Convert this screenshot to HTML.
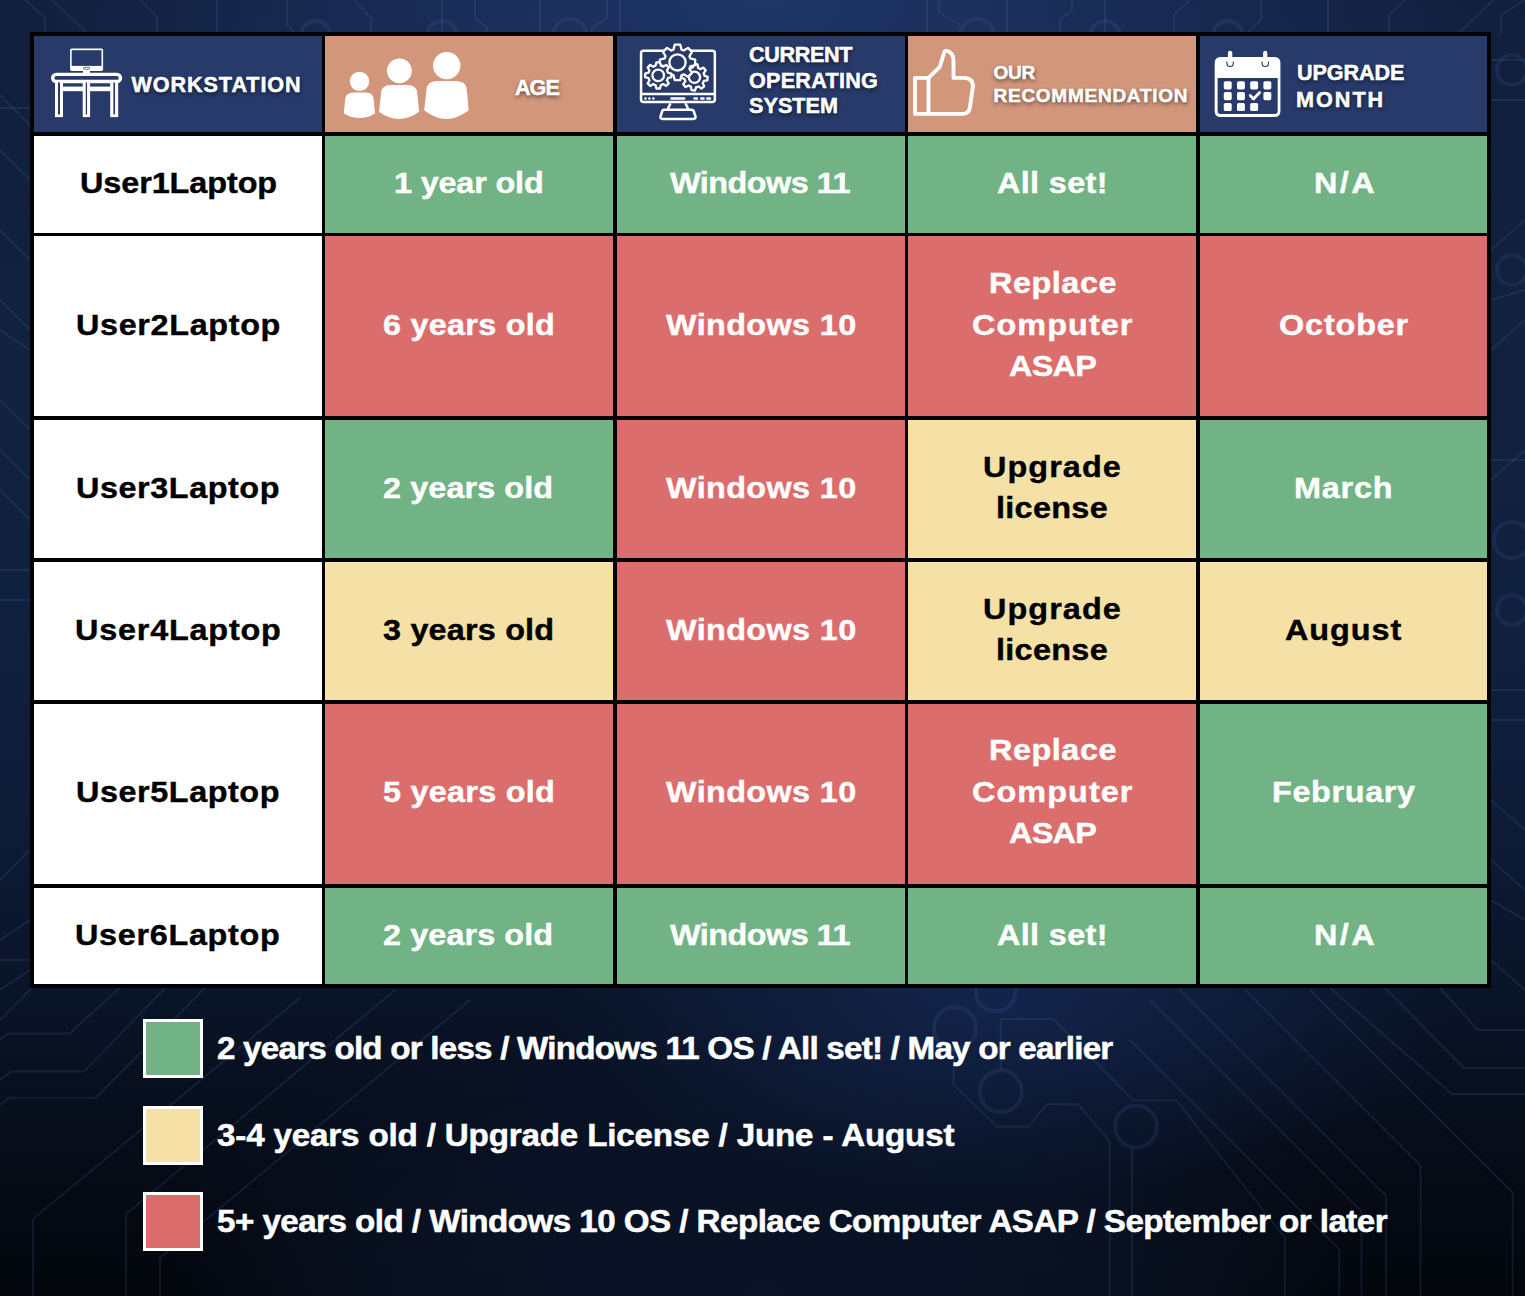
<!DOCTYPE html>
<html><head><meta charset="utf-8"><title>Workstation upgrade plan</title><style>
html,body{margin:0;padding:0;}
body{position:relative;width:1525px;height:1296px;overflow:hidden;font-family:"Liberation Sans",sans-serif;font-weight:bold;
background:
radial-gradient(900px 450px at 762px 0px, rgba(31,54,104,1) 0%, rgba(31,54,104,0.6) 40%, rgba(31,54,104,0.35) 65%, rgba(31,54,104,0.1) 85%, rgba(31,54,104,0) 100%),
radial-gradient(450px 200px at 1000px 1000px, rgba(24,44,92,0.7) 0%, rgba(24,44,92,0.35) 50%, rgba(24,44,92,0) 100%),
radial-gradient(600px 320px at 762px 1296px, rgba(10,20,40,0.95) 0%, rgba(10,20,40,0.7) 60%, rgba(10,20,40,0) 100%),
linear-gradient(180deg,#0f1b36 0%,#11213f 23%,#10203f 46%,#0e1c38 62%,#0a1428 77%,#060c18 89%,#03060c 100%);}
.t{position:absolute;white-space:nowrap;line-height:1;transform-origin:0 0;}
</style></head><body>
<svg style="position:absolute;left:0;top:0" width="1525" height="1296" viewBox="0 0 1525 1296"><g fill="none" stroke="rgba(90,135,205,0.14)" stroke-width="2"><path d="M0,1040 L8,1033.5 L69.5,1033.5 L123,985"/><path d="M0,1080 L10.5,1071.6 L84,1071.6 L168,985"/><path d="M0,1105 L9,1097.8 L95.7,1097.8 L208,985"/><path d="M33,1296 L33,1219 L300,998"/><path d="M126,1296 L126,1214 L395,990"/><path d="M160,1296 L160,1258 L470,1000"/><path d="M0,1020 L35,985"/><path d="M1000.8,1070 L1000.8,1019 L1053.4,1019 L1133.5,1100.4 L1176.6,1100.4 L1285,1238 L1285,1296"/><path d="M953.6,1049.3 L953.6,1084.7 L997,1126.6 L1028.5,1126.6 L1046.7,1104.3 L1078.2,1104.3 L1109.7,1141 L1109.7,1296"/><path d="M1132,1147.6 L1132,1296"/><path d="M1150,1000 L1361.5,1211.5 L1361.5,1296"/><path d="M1180,990 L1386,1196 L1386,1296"/><path d="M1245,990 L1420.5,1165.5 L1420.5,1296"/><path d="M1310,990 L1512.7,1192.7 L1512.7,1296"/><path d="M1130,1040 L1339.3,1249.3 L1339.3,1296"/><path d="M1385,988 L1464,1068 L1525,1068"/><path d="M1440,988 L1478,1030 L1525,1030"/><path d="M1330,988 L1452,1094 L1525,1094"/><path d="M25,0 L45,18 L45,34"/><path d="M52,0 L82,28 L88,34"/><path d="M140,0 L157,17 L157,34"/><path d="M217,0 L217,34"/><path d="M287,0 L287,25 L296,34"/><path d="M354,0 L371,18 L371,34"/><path d="M442,0 L442,34"/><path d="M475,0 L475,18 L487,28 L487,34"/><path d="M540,0 L540,34"/><path d="M607,0 L607,18 L592,28 L592,34"/><path d="M620,0 L620,34"/><path d="M927,0 L927,34"/><path d="M939,0 L939,12 L960,25"/><path d="M1007,0 L1007,34"/><path d="M1072,0 L1072,10 L1060,20 L1060,34"/><path d="M1105,0 L1105,34"/><path d="M1190,0 L1174,15 L1174,34"/><path d="M1261,0 L1261,20 L1248,32"/><path d="M1328,0 L1328,34"/><path d="M1405,0 L1389,15 L1389,34"/><path d="M1493,0 L1458,34"/><path d="M1525,0 L1501,15 L1501,34"/><path d="M0,95 L30,125"/><path d="M0,108 L30,108"/><path d="M0,150 L30,180"/><path d="M0,230 L30,260"/><path d="M0,300 L30,330"/><path d="M0,330 L30,350"/><path d="M0,400 L30,430"/><path d="M0,450 L30,480"/><path d="M0,490 L30,520"/><path d="M0,570 L30,570"/><path d="M0,600 L30,600"/><path d="M0,880 L30,850"/><path d="M0,940 L30,920"/><path d="M0,960 L30,960"/><path d="M0,990 L30,970"/><path d="M1491,60 L1525,60"/><path d="M1491,100 L1525,100"/><path d="M1491,250 L1525,220"/><path d="M1491,300 L1525,290"/><path d="M1491,350 L1525,320"/><path d="M1491,460 L1525,460"/><path d="M1491,480 L1525,450"/><path d="M1491,690 L1525,690"/><path d="M1491,720 L1525,720"/><path d="M1491,800 L1525,830"/><path d="M1491,860 L1525,890"/><path d="M1491,900 L1525,920"/><path d="M1491,960 L1525,990"/></g><g fill="none" stroke="rgba(90,135,205,0.12)" stroke-width="4"><circle cx="995.6" cy="991.6" r="19.7"/><circle cx="955" cy="1028.3" r="21"/><circle cx="1000.8" cy="1091.2" r="21"/><circle cx="1136" cy="1126.6" r="21"/><circle cx="316" cy="36" r="15"/><circle cx="442" cy="36" r="15"/><circle cx="570" cy="36" r="17"/><circle cx="977" cy="36" r="17"/><circle cx="1105" cy="36" r="15"/><circle cx="1228" cy="36" r="15"/><circle cx="1512" cy="70" r="15"/><circle cx="1512" cy="270" r="15"/><circle cx="1512" cy="540" r="18"/><circle cx="1512" cy="610" r="15"/></g></svg>
<div style="position:absolute;left:30px;top:32px;width:1461px;height:956px;background:#000;"></div><div style="position:absolute;left:34px;top:36px;width:288px;height:96px;background:#273a6a;"></div><div style="position:absolute;left:325px;top:36px;width:288px;height:96px;background:#d2967b;"></div><div style="position:absolute;left:617px;top:36px;width:288px;height:96px;background:#273a6a;"></div><div style="position:absolute;left:908px;top:36px;width:288px;height:96px;background:#d2967b;"></div><div style="position:absolute;left:1200px;top:36px;width:287px;height:96px;background:#273a6a;"></div><div style="position:absolute;left:34px;top:136px;width:288px;height:97px;background:#ffffff;"></div><div class="t" style="left:79.50px;top:167.60px;font-size:30px;letter-spacing:-0.082px;color:#000;transform:scaleX(1.08);-webkit-text-stroke:0.4px #000;">User1Laptop</div><div style="position:absolute;left:325px;top:136px;width:288px;height:97px;background:#71b385;"></div><div class="t" style="left:393.50px;top:167.60px;font-size:30px;letter-spacing:-0.165px;color:#fff;transform:scaleX(1.08);-webkit-text-stroke:0.4px #fff;">1 year old</div><div style="position:absolute;left:617px;top:136px;width:288px;height:97px;background:#71b385;"></div><div class="t" style="left:670.00px;top:167.60px;font-size:30px;letter-spacing:-0.479px;color:#fff;transform:scaleX(1.08);-webkit-text-stroke:0.4px #fff;">Windows 11</div><div style="position:absolute;left:908px;top:136px;width:288px;height:97px;background:#71b385;"></div><div class="t" style="left:997.00px;top:167.60px;font-size:30px;letter-spacing:0.325px;color:#fff;transform:scaleX(1.08);-webkit-text-stroke:0.4px #fff;">All set!</div><div style="position:absolute;left:1200px;top:136px;width:287px;height:97px;background:#71b385;"></div><div class="t" style="left:1314.00px;top:167.60px;font-size:30px;letter-spacing:2.282px;color:#fff;transform:scaleX(1.08);-webkit-text-stroke:0.4px #fff;">N/A</div><div style="position:absolute;left:34px;top:236px;width:288px;height:180px;background:#ffffff;"></div><div class="t" style="left:76.00px;top:309.71px;font-size:30px;letter-spacing:0.588px;color:#000;transform:scaleX(1.08);-webkit-text-stroke:0.4px #000;">User2Laptop</div><div style="position:absolute;left:325px;top:236px;width:288px;height:180px;background:#db6e6d;"></div><div class="t" style="left:383.00px;top:309.71px;font-size:30px;letter-spacing:0.238px;color:#fff;transform:scaleX(1.08);-webkit-text-stroke:0.4px #fff;">6 years old</div><div style="position:absolute;left:617px;top:236px;width:288px;height:180px;background:#db6e6d;"></div><div class="t" style="left:666.00px;top:309.71px;font-size:30px;letter-spacing:0.334px;color:#fff;transform:scaleX(1.08);-webkit-text-stroke:0.4px #fff;">Windows 10</div><div style="position:absolute;left:908px;top:236px;width:288px;height:180px;background:#db6e6d;"></div><div class="t" style="left:988.50px;top:268.41px;font-size:30px;letter-spacing:0.501px;color:#fff;transform:scaleX(1.08);-webkit-text-stroke:0.4px #fff;">Replace</div><div class="t" style="left:971.50px;top:309.71px;font-size:30px;letter-spacing:0.984px;color:#fff;transform:scaleX(1.08);-webkit-text-stroke:0.4px #fff;">Computer</div><div class="t" style="left:1008.50px;top:351.01px;font-size:30px;letter-spacing:-0.668px;color:#fff;transform:scaleX(1.08);-webkit-text-stroke:0.4px #fff;">ASAP</div><div style="position:absolute;left:1200px;top:236px;width:287px;height:180px;background:#db6e6d;"></div><div class="t" style="left:1279.00px;top:309.71px;font-size:30px;letter-spacing:0.770px;color:#fff;transform:scaleX(1.08);-webkit-text-stroke:0.4px #fff;">October</div><div style="position:absolute;left:34px;top:420px;width:288px;height:138px;background:#ffffff;"></div><div class="t" style="left:76.00px;top:472.71px;font-size:30px;letter-spacing:0.505px;color:#000;transform:scaleX(1.08);-webkit-text-stroke:0.4px #000;">User3Laptop</div><div style="position:absolute;left:325px;top:420px;width:288px;height:138px;background:#71b385;"></div><div class="t" style="left:383.00px;top:472.71px;font-size:30px;letter-spacing:0.073px;color:#fff;transform:scaleX(1.08);-webkit-text-stroke:0.4px #fff;">2 years old</div><div style="position:absolute;left:617px;top:420px;width:288px;height:138px;background:#db6e6d;"></div><div class="t" style="left:666.00px;top:472.71px;font-size:30px;letter-spacing:0.334px;color:#fff;transform:scaleX(1.08);-webkit-text-stroke:0.4px #fff;">Windows 10</div><div style="position:absolute;left:908px;top:420px;width:288px;height:138px;background:#f5e1a6;"></div><div class="t" style="left:983.00px;top:452.06px;font-size:30px;letter-spacing:0.981px;color:#000;transform:scaleX(1.08);-webkit-text-stroke:0.4px #000;">Upgrade</div><div class="t" style="left:996.00px;top:493.36px;font-size:30px;letter-spacing:0.278px;color:#000;transform:scaleX(1.08);-webkit-text-stroke:0.4px #000;">license</div><div style="position:absolute;left:1200px;top:420px;width:287px;height:138px;background:#71b385;"></div><div class="t" style="left:1294.00px;top:472.71px;font-size:30px;letter-spacing:0.747px;color:#fff;transform:scaleX(1.08);-webkit-text-stroke:0.4px #fff;">March</div><div style="position:absolute;left:34px;top:562px;width:288px;height:138px;background:#ffffff;"></div><div class="t" style="left:74.50px;top:614.61px;font-size:30px;letter-spacing:0.726px;color:#000;transform:scaleX(1.08);-webkit-text-stroke:0.4px #000;">User4Laptop</div><div style="position:absolute;left:325px;top:562px;width:288px;height:138px;background:#f5e1a6;"></div><div class="t" style="left:383.00px;top:614.61px;font-size:30px;letter-spacing:0.165px;color:#000;transform:scaleX(1.08);-webkit-text-stroke:0.4px #000;">3 years old</div><div style="position:absolute;left:617px;top:562px;width:288px;height:138px;background:#db6e6d;"></div><div class="t" style="left:666.00px;top:614.61px;font-size:30px;letter-spacing:0.334px;color:#fff;transform:scaleX(1.08);-webkit-text-stroke:0.4px #fff;">Windows 10</div><div style="position:absolute;left:908px;top:562px;width:288px;height:138px;background:#f5e1a6;"></div><div class="t" style="left:983.00px;top:593.96px;font-size:30px;letter-spacing:0.981px;color:#000;transform:scaleX(1.08);-webkit-text-stroke:0.4px #000;">Upgrade</div><div class="t" style="left:996.00px;top:635.25px;font-size:30px;letter-spacing:0.278px;color:#000;transform:scaleX(1.08);-webkit-text-stroke:0.4px #000;">license</div><div style="position:absolute;left:1200px;top:562px;width:287px;height:138px;background:#f5e1a6;"></div><div class="t" style="left:1284.50px;top:614.61px;font-size:30px;letter-spacing:0.865px;color:#000;transform:scaleX(1.08);-webkit-text-stroke:0.4px #000;">August</div><div style="position:absolute;left:34px;top:704px;width:288px;height:180px;background:#ffffff;"></div><div class="t" style="left:76.00px;top:776.71px;font-size:30px;letter-spacing:0.505px;color:#000;transform:scaleX(1.08);-webkit-text-stroke:0.4px #000;">User5Laptop</div><div style="position:absolute;left:325px;top:704px;width:288px;height:180px;background:#db6e6d;"></div><div class="t" style="left:383.00px;top:776.71px;font-size:30px;letter-spacing:0.238px;color:#fff;transform:scaleX(1.08);-webkit-text-stroke:0.4px #fff;">5 years old</div><div style="position:absolute;left:617px;top:704px;width:288px;height:180px;background:#db6e6d;"></div><div class="t" style="left:666.00px;top:776.71px;font-size:30px;letter-spacing:0.334px;color:#fff;transform:scaleX(1.08);-webkit-text-stroke:0.4px #fff;">Windows 10</div><div style="position:absolute;left:908px;top:704px;width:288px;height:180px;background:#db6e6d;"></div><div class="t" style="left:988.50px;top:735.41px;font-size:30px;letter-spacing:0.501px;color:#fff;transform:scaleX(1.08);-webkit-text-stroke:0.4px #fff;">Replace</div><div class="t" style="left:971.50px;top:776.71px;font-size:30px;letter-spacing:0.984px;color:#fff;transform:scaleX(1.08);-webkit-text-stroke:0.4px #fff;">Computer</div><div class="t" style="left:1008.50px;top:818.00px;font-size:30px;letter-spacing:-0.668px;color:#fff;transform:scaleX(1.08);-webkit-text-stroke:0.4px #fff;">ASAP</div><div style="position:absolute;left:1200px;top:704px;width:287px;height:180px;background:#71b385;"></div><div class="t" style="left:1272.00px;top:776.71px;font-size:30px;letter-spacing:0.586px;color:#fff;transform:scaleX(1.08);-webkit-text-stroke:0.4px #fff;">February</div><div style="position:absolute;left:34px;top:888px;width:288px;height:96px;background:#ffffff;"></div><div class="t" style="left:75.00px;top:919.61px;font-size:30px;letter-spacing:0.626px;color:#000;transform:scaleX(1.08);-webkit-text-stroke:0.4px #000;">User6Laptop</div><div style="position:absolute;left:325px;top:888px;width:288px;height:96px;background:#71b385;"></div><div class="t" style="left:383.00px;top:919.61px;font-size:30px;letter-spacing:0.073px;color:#fff;transform:scaleX(1.08);-webkit-text-stroke:0.4px #fff;">2 years old</div><div style="position:absolute;left:617px;top:888px;width:288px;height:96px;background:#71b385;"></div><div class="t" style="left:670.00px;top:919.61px;font-size:30px;letter-spacing:-0.479px;color:#fff;transform:scaleX(1.08);-webkit-text-stroke:0.4px #fff;">Windows 11</div><div style="position:absolute;left:908px;top:888px;width:288px;height:96px;background:#71b385;"></div><div class="t" style="left:997.00px;top:919.61px;font-size:30px;letter-spacing:0.325px;color:#fff;transform:scaleX(1.08);-webkit-text-stroke:0.4px #fff;">All set!</div><div style="position:absolute;left:1200px;top:888px;width:287px;height:96px;background:#71b385;"></div><div class="t" style="left:1314.00px;top:919.61px;font-size:30px;letter-spacing:2.282px;color:#fff;transform:scaleX(1.08);-webkit-text-stroke:0.4px #fff;">N/A</div><div class="t" style="left:131.50px;top:73.62px;font-size:21.6px;letter-spacing:0.920px;color:#fff;-webkit-text-stroke:0.5px #fff;text-shadow:0.5px 1.5px 4.5px rgba(0,0,0,0.6);">WORKSTATION</div><div class="t" style="left:515.00px;top:76.62px;font-size:21.6px;letter-spacing:-1.000px;color:#fff;-webkit-text-stroke:0.5px #fff;text-shadow:0.5px 1.5px 4.5px rgba(0,0,0,0.6);">AGE</div><div class="t" style="left:749.00px;top:43.62px;font-size:21.6px;letter-spacing:-0.366px;color:#fff;-webkit-text-stroke:0.5px #fff;text-shadow:0.5px 1.5px 4.5px rgba(0,0,0,0.6);">CURRENT</div><div class="t" style="left:749.00px;top:69.62px;font-size:21.6px;letter-spacing:0.250px;color:#fff;-webkit-text-stroke:0.5px #fff;text-shadow:0.5px 1.5px 4.5px rgba(0,0,0,0.6);">OPERATING</div><div class="t" style="left:749.00px;top:95.32px;font-size:21.6px;letter-spacing:0.040px;color:#fff;-webkit-text-stroke:0.5px #fff;text-shadow:0.5px 1.5px 4.5px rgba(0,0,0,0.6);">SYSTEM</div><div class="t" style="left:993.50px;top:62.82px;font-size:19px;letter-spacing:-0.300px;color:#fff;-webkit-text-stroke:0.5px #fff;text-shadow:0.5px 1.5px 4.5px rgba(0,0,0,0.6);">OUR</div><div class="t" style="left:993.50px;top:85.62px;font-size:19px;letter-spacing:0.742px;color:#fff;-webkit-text-stroke:0.5px #fff;text-shadow:0.5px 1.5px 4.5px rgba(0,0,0,0.6);">RECOMMENDATION</div><div class="t" style="left:1297.00px;top:62.42px;font-size:21.6px;letter-spacing:-0.102px;color:#fff;-webkit-text-stroke:0.5px #fff;text-shadow:0.5px 1.5px 4.5px rgba(0,0,0,0.6);">UPGRADE</div><div class="t" style="left:1296.00px;top:88.82px;font-size:21.6px;letter-spacing:2.000px;color:#fff;-webkit-text-stroke:0.5px #fff;text-shadow:0.5px 1.5px 4.5px rgba(0,0,0,0.6);">MONTH</div><div style="position:absolute;left:143px;top:1019px;width:60px;height:59px;background:#71b385;box-sizing:border-box;border:3.5px solid #fff;"></div><div class="t" style="left:217.00px;top:1032.86px;font-size:31px;letter-spacing:-0.723px;color:#fff;transform:scaleX(1.07);-webkit-text-stroke:0.5px #fff;">2 years old or less / Windows 11 OS / All set! / May or earlier</div><div style="position:absolute;left:143px;top:1106px;width:60px;height:59px;background:#f5e1a6;box-sizing:border-box;border:3.5px solid #fff;"></div><div class="t" style="left:217.00px;top:1119.76px;font-size:31px;letter-spacing:-0.158px;color:#fff;transform:scaleX(1.07);-webkit-text-stroke:0.5px #fff;">3-4 years old / Upgrade License / June - August</div><div style="position:absolute;left:143px;top:1192px;width:60px;height:59px;background:#db6e6d;box-sizing:border-box;border:3.5px solid #fff;"></div><div class="t" style="left:217.00px;top:1205.66px;font-size:31px;letter-spacing:-0.509px;color:#fff;transform:scaleX(1.07);-webkit-text-stroke:0.5px #fff;">5+ years old / Windows 10 OS / Replace Computer ASAP / September or later</div>
<svg style="position:absolute;left:0;top:0" width="1525" height="140" viewBox="0 0 1525 140"><g fill="#fff"><rect x="70.1" y="48.6" width="33" height="22.3" rx="1.6"/><rect x="71.7" y="50.2" width="29.8" height="15.7" fill="#273a6a"/><rect x="83.4" y="67.3" width="6.2" height="1.9" rx="0.9" fill="none" stroke="#273a6a" stroke-width="0.7"/><rect x="83" y="70" width="7.1" height="3.5"/><rect x="52.7" y="74.4" width="67.8" height="7.1" rx="3.55" fill="none" stroke="#fff" stroke-width="3.4"/><rect x="55" y="82.5" width="8" height="34.6"/><rect x="58.00" y="82.5" width="2.0" height="31.9" fill="#273a6a"/><rect x="82.7" y="82.5" width="7.4" height="34.6"/><rect x="85.75" y="82.5" width="1.3" height="31.9" fill="#273a6a"/><rect x="110.2" y="82.5" width="8" height="34.6"/><rect x="113.40" y="82.5" width="1.6" height="31.9" fill="#273a6a"/><rect x="62" y="86.6" width="21.5" height="4.6"/><rect x="89.5" y="86.6" width="21.5" height="4.6"/></g><g fill="#fff"><circle cx="359.5" cy="81.35" r="9.7"/><circle cx="399.4" cy="70.8" r="12.4"/><circle cx="446.7" cy="65.6" r="13.7"/><path d="M354.4,92.4 L365.4,92.4 Q373.6,92.4 373.6,99.3 L375.0,113.5 Q359.4,122.69999999999999 343.8,113.5 L345.2,99.3 Q345.2,92.4 354.4,92.4Z"/><path d="M391.1,85.0 L406.7,85.0 Q417.3,85.0 417.3,93.7 L419.1,111.7 Q399.05,126.3 379.0,111.7 L381.0,93.7 Q381.0,85.0 391.1,85.0Z"/><path d="M437.0,80.9 L455.4,80.9 Q466.9,80.9 466.9,91.0 L468.7,110.3 Q446.45,127.7 424.2,110.3 L426.4,91.0 Q426.4,80.9 437.0,80.9Z"/></g><g fill="none" stroke="#fff" stroke-width="2.5" stroke-linejoin="round"><rect x="641.05" y="50.75" width="73.8" height="51.3" rx="2.5"/><line x1="641" y1="94.1" x2="715" y2="94.1"/><path d="M670.5,103.3 L667.5,109.8 M685.5,103.3 L688.5,109.8"/><path d="M664,109.8 L691,109.8 Q693.5,109.8 694,112 L695.5,116.5 Q696,118.9 693.5,118.9 L662.5,118.9 Q660,118.9 660.5,116.5 L662,112 Q662.5,109.8 664,109.8Z"/></g><g fill="#fff"><circle cx="645.5" cy="98.5" r="1.3"/><circle cx="649.4" cy="98.5" r="1.3"/><circle cx="653.4" cy="98.5" r="1.3"/><rect x="670.2" y="97.2" width="15.2" height="2.6" rx="1.3"/><rect x="693.3" y="97.2" width="4.8" height="2.6" rx="1.3"/><rect x="700.0" y="97.2" width="4.8" height="2.6" rx="1.3"/><rect x="706.0" y="97.2" width="5.2" height="2.6" rx="1.3"/></g><g fill="#273a6a" stroke="#fff" stroke-width="2.3" stroke-linejoin="round"><path d="M692.81,67.44 L694.02,64.11 L697.59,64.47 L698.12,67.98 L698.68,68.22 L699.23,68.49 L699.76,68.80 L700.27,69.13 L703.49,67.63 L705.76,70.41 L703.65,73.26 L703.88,73.83 L704.07,74.41 L704.23,75.01 L704.36,75.61 L707.69,76.82 L707.33,80.39 L703.82,80.92 L703.58,81.48 L703.31,82.03 L703.00,82.56 L702.67,83.07 L704.17,86.29 L701.39,88.56 L698.54,86.45 L697.97,86.68 L697.39,86.87 L696.79,87.03 L696.19,87.16 L694.98,90.49 L691.41,90.13 L690.88,86.62 L690.32,86.38 L689.77,86.11 L689.24,85.80 L688.73,85.47 L685.51,86.97 L683.24,84.19 L685.35,81.34 L685.12,80.77 L684.93,80.19 L684.77,79.59 L684.64,78.99 L681.31,77.78 L681.67,74.21 L685.18,73.68 L685.42,73.12 L685.69,72.57 L686.00,72.04 L686.33,71.53 L684.83,68.31 L687.61,66.04 L690.46,68.15 L691.03,67.92 L691.61,67.73 L692.21,67.57Z"/><circle cx="694.5" cy="77.3" r="5.6"/><path d="M673.46,49.62 L674.71,44.72 L680.29,44.72 L681.54,49.62 L682.09,49.81 L682.63,50.02 L683.16,50.25 L683.68,50.51 L688.03,47.93 L691.97,51.87 L689.39,56.22 L689.65,56.74 L689.88,57.27 L690.09,57.81 L690.28,58.36 L695.18,59.61 L695.18,65.19 L690.28,66.44 L690.09,66.99 L689.88,67.53 L689.65,68.06 L689.39,68.58 L691.97,72.93 L688.03,76.87 L683.68,74.29 L683.16,74.55 L682.63,74.78 L682.09,74.99 L681.54,75.18 L680.29,80.08 L674.71,80.08 L673.46,75.18 L672.91,74.99 L672.37,74.78 L671.84,74.55 L671.32,74.29 L666.97,76.87 L663.03,72.93 L665.61,68.58 L665.35,68.06 L665.12,67.53 L664.91,66.99 L664.72,66.44 L659.82,65.19 L659.82,59.61 L664.72,58.36 L664.91,57.81 L665.12,57.27 L665.35,56.74 L665.61,56.22 L663.03,51.87 L666.97,47.93 L671.32,50.51 L671.84,50.25 L672.37,50.02 L672.91,49.81Z"/><circle cx="677.5" cy="62.4" r="8.1"/><path d="M655.53,65.76 L656.41,62.32 L659.99,62.32 L660.87,65.76 L661.45,65.94 L662.03,66.16 L662.59,66.41 L663.13,66.70 L666.18,64.88 L668.72,67.42 L666.90,70.47 L667.19,71.01 L667.44,71.57 L667.66,72.15 L667.84,72.73 L671.28,73.61 L671.28,77.19 L667.84,78.07 L667.66,78.65 L667.44,79.23 L667.19,79.79 L666.90,80.33 L668.72,83.38 L666.18,85.92 L663.13,84.10 L662.59,84.39 L662.03,84.64 L661.45,84.86 L660.87,85.04 L659.99,88.48 L656.41,88.48 L655.53,85.04 L654.95,84.86 L654.37,84.64 L653.81,84.39 L653.27,84.10 L650.22,85.92 L647.68,83.38 L649.50,80.33 L649.21,79.79 L648.96,79.23 L648.74,78.65 L648.56,78.07 L645.12,77.19 L645.12,73.61 L648.56,72.73 L648.74,72.15 L648.96,71.57 L649.21,71.01 L649.50,70.47 L647.68,67.42 L650.22,64.88 L653.27,66.70 L653.81,66.41 L654.37,66.16 L654.95,65.94Z"/><circle cx="658.2" cy="75.4" r="5.8"/></g><g fill="none" stroke="#fff" stroke-width="3.9" stroke-linejoin="round"><path d="M915,77.9 L928.5,77.9 L939.8,66.8 L944.2,52.3 Q945,50.3 947.2,50.8 Q953.5,52.8 953.5,60.5 L953.5,77.9 L964.5,77.9 Q973.8,78.5 972.8,87.5 L969.8,108 Q968.8,113.9 962.5,113.9 L915,113.9 Z"/><line x1="928.5" y1="77.9" x2="928.5" y2="113.9"/></g><g fill="#fff"><rect x="1214.7" y="56.9" width="65.7" height="60.1" rx="5.5"/><path d="M1217.6,78 L1277.7,78 L1277.7,111 Q1277.7,114 1274.7,114 L1220.6,114 Q1217.6,114 1217.6,111Z" fill="#273a6a"/><rect x="1227.9" y="50.7" width="4.4" height="10" rx="2.2"/><rect x="1263.1" y="50.7" width="4.2" height="10" rx="2.1"/><path d="M1226.9,61.5 L1226.9,63.2 Q1226.9,66.5 1230.1,66.5 Q1233.3,66.5 1233.3,63.2 L1233.3,61.5 M1262.1,61.5 L1262.1,63.2 Q1262.1,66.5 1265.3,66.5 Q1268.5,66.5 1268.5,63.2 L1268.5,61.5" fill="none" stroke="#273a6a" stroke-width="1.1"/><rect x="1223.8" y="81.2" width="7.9" height="8.2" rx="1.6"/><rect x="1237.0" y="81.2" width="7.9" height="8.2" rx="1.6"/><rect x="1250.2" y="81.2" width="7.9" height="8.2" rx="1.6"/><rect x="1263.4" y="81.2" width="7.9" height="8.2" rx="1.6"/><rect x="1223.8" y="92.0" width="7.9" height="8.2" rx="1.6"/><rect x="1237.0" y="92.0" width="7.9" height="8.2" rx="1.6"/><rect x="1263.4" y="92.0" width="7.9" height="8.2" rx="1.6"/><rect x="1223.8" y="102.9" width="7.9" height="8.2" rx="1.6"/><rect x="1237.0" y="102.9" width="7.9" height="8.2" rx="1.6"/><rect x="1250.2" y="102.9" width="7.9" height="8.2" rx="1.6"/></g><path d="M1250.3,95.5 L1253.5,99 L1259.6,92.6" fill="none" stroke="#fff" stroke-width="2.9" stroke-linecap="round" stroke-linejoin="round"/></svg>
</body></html>
